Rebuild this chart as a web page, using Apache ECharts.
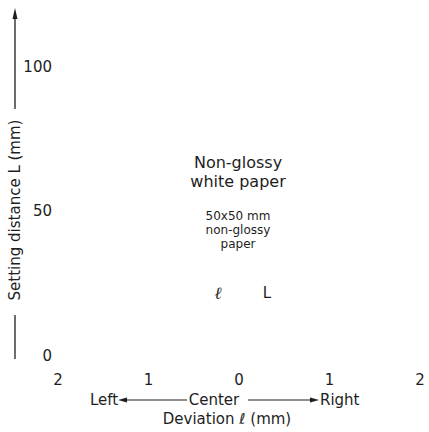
<!DOCTYPE html>
<html><head><meta charset="utf-8">
<script src="https://cdn.jsdelivr.net/npm/echarts@6/dist/echarts.min.js"></script>
<style>html,body{margin:0;padding:0;background:#fff}#c{width:429px;height:432px}</style>
</head><body><div id="c"></div>
<script>
const xMin = -2, xMax = 2, xInterval = 1;
const yMin = 0, yMax = 120, yTicks = [0, 50, 100];
const yAxisName = 'Setting distance L (mm)';
const xAxisName = 'Deviation ℓ (mm)';
const directionLabels = ['Left', 'Center', 'Right'];
const objectLabel = ['Non-glossy', 'white paper'];
const targetLabel = ['50x50 mm', 'non-glossy', 'paper'];
const symbolLabels = ['ℓ', 'L'];

const C = '#1e1e1e';
const FF = 'DejaVu Sans, sans-serif';
const chart = echarts.init(document.getElementById('c'), null, {renderer: 'svg'});

function txt(x, y, text, size, align, family, style) {
  return {type: 'text', x: x, y: y, silent: true,
    style: {text: text, fill: C, fontSize: size, fontFamily: family || FF, fontStyle: style || 'normal',
      align: align || 'center', verticalAlign: 'middle'}};
}
function seg(x1, y1, x2, y2, w) {
  return {type: 'line', silent: true, shape: {x1: x1, y1: y1, x2: x2, y2: y2}, style: {stroke: C, lineWidth: w}};
}
function tri(pts) {
  return {type: 'polygon', silent: true, shape: {points: pts}, style: {fill: C}};
}

const yName = txt(15, 210, yAxisName, 15, 'center');
yName.rotation = Math.PI / 2;

const graphic = [
  // y-axis arrow lines and name
  seg(15, 16, 15, 109, 1.3),
  tri([[15, 8], [12.5, 19], [17.5, 19]]),
  seg(15, 315, 15, 359, 1.3),
  yName,
  // bottom direction labels
  txt(90, 400, directionLabels[0], 15, 'left'),
  seg(125, 400, 187, 400, 1.2),
  tri([[118, 400], [127, 397.5], [127, 402.5]]),
  txt(214, 400, directionLabels[1], 15, 'center'),
  seg(248, 400, 312, 400, 1.2),
  tri([[319, 400], [310, 397.5], [310, 402.5]]),
  txt(320, 400, directionLabels[2], 15, 'left'),
  txt(227, 419, xAxisName, 15, 'center'),
  // annotations
  txt(238, 162, objectLabel[0], 16, 'center'),
  txt(238, 181, objectLabel[1], 16, 'center'),
  txt(238, 216, targetLabel[0], 12, 'center'),
  txt(238, 230, targetLabel[1], 12, 'center'),
  txt(238, 244, targetLabel[2], 12, 'center'),
  txt(218, 293, symbolLabels[0], 17, 'center', 'DejaVu Serif, serif', 'italic'),
  txt(267, 293, symbolLabels[1], 15, 'center')
];

chart.setOption({
  animation: false,
  backgroundColor: '#fff',
  grid: {left: 58, right: 9, top: 9, bottom: 76, outerBoundsMode: 'none', containLabel: false},
  xAxis: {type: 'value', min: xMin, max: xMax, interval: xInterval,
    axisLine: {show: false}, axisTick: {show: false}, splitLine: {show: false},
    axisLabel: {margin: 16, color: C, fontSize: 15, fontFamily: FF, formatter: v => String(Math.abs(v))}},
  yAxis: {type: 'value', min: yMin, max: yMax,
    axisLine: {show: false}, axisTick: {show: false}, splitLine: {show: false},
    axisLabel: {margin: 6, color: C, fontSize: 15, fontFamily: FF,
      customValues: yTicks, formatter: v => yTicks.includes(v) ? String(v) : ''}},
  series: [{type: 'line', data: [], silent: true}],
  graphic: {elements: graphic}
});
</script></body></html>
